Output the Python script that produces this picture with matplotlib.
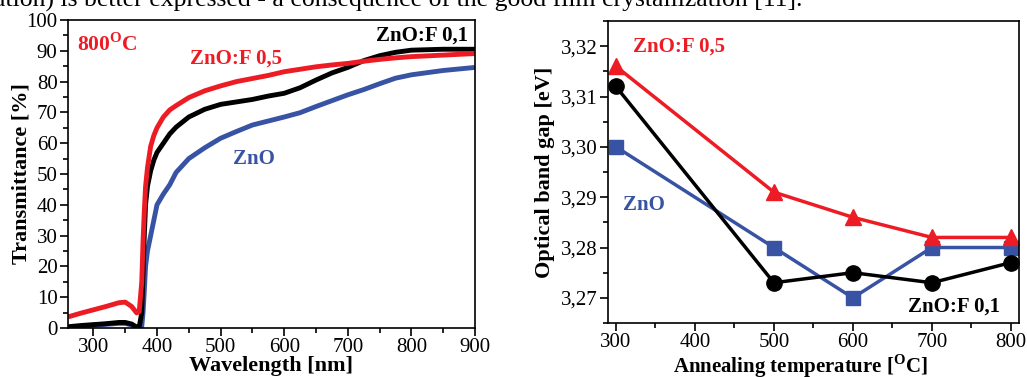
import matplotlib
matplotlib.use("Agg")
import matplotlib.pyplot as plt
from matplotlib.ticker import MultipleLocator, FuncFormatter

plt.rcParams["font.family"] = "Liberation Serif"
plt.rcParams["mathtext.fontset"] = "custom"
plt.rcParams["mathtext.rm"] = "Liberation Serif"
plt.rcParams["mathtext.bf"] = "Liberation Serif:bold"

RED = "#ED1C24"
BLUE = "#3953A4"
BLACK = "#000000"

# transmittance spectra (800 C annealed)
wavelength = [260, 280, 300, 320, 340, 350, 360, 368, 372, 376, 378, 380, 382, 385,
              390, 395, 400, 410, 420, 430, 450, 475, 500, 525, 550, 575, 600, 625,
              650, 675, 700, 725, 750, 775, 800, 850, 900]
t_znof05 = [3.6, 4.8, 5.9, 7.0, 8.2, 8.4, 7.0, 4.9, 5.3, 15, 28, 38, 46, 52,
            59, 62.5, 65, 68.5, 70.8, 72.2, 74.8, 77, 78.6, 80, 81, 82, 83.2, 84,
            84.8, 85.4, 85.9, 86.6, 87.2, 87.7, 88.1, 88.6, 89.1]
t_znof01 = [0.4, 0.8, 1.1, 1.4, 1.8, 1.8, 1.3, 0.3, 0.3, 5, 18, 30, 40, 46,
            51, 54.5, 57, 60, 63, 65.2, 68.5, 71, 72.6, 73.4, 74.2, 75.3, 76.2, 78,
            80.5, 82.8, 84.6, 86.8, 88.4, 89.5, 90.2, 90.5, 90.5]
t_zno = [0.1, 0.5, 0.9, 1.2, 1.5, 1.5, 1.0, 0.0, 0.0, 0.5, 5, 12, 20, 25,
         30, 35, 40, 43.5, 46.5, 50.5, 55, 58.5, 61.6, 63.8, 65.9, 67.2, 68.5, 69.9,
         71.9, 73.8, 75.7, 77.4, 79.3, 81.1, 82.2, 83.6, 84.6]

# optical band gap vs annealing temperature
temps = [300, 500, 600, 700, 800]
eg_znof05 = [3.316, 3.291, 3.286, 3.282, 3.282]
eg_znof01 = [3.312, 3.273, 3.275, 3.273, 3.277]
eg_zno = [3.300, 3.280, 3.270, 3.280, 3.280]

fig = plt.figure(figsize=(10.27, 3.77), dpi=100)

fig.text(-0.006, 0.983, "ation) is better expressed - a consequence of the good film crystallization [11].",
         fontsize=18.5, va="baseline", ha="left")


def style_axes(ax):
    ax.tick_params(which="major", direction="out", length=6, width=1.2, labelsize=15,
                   top=False, right=False, pad=1.5)
    ax.tick_params(which="minor", direction="out", length=3.5, width=1.2,
                   top=False, right=False)
    for s in ax.spines.values():
        s.set_linewidth(1.2)


# left panel
ax1 = fig.add_axes([0.0662, 0.130, 0.3963, 0.817])
ax1.plot(wavelength, t_zno, color=BLUE, lw=3.5, solid_capstyle="butt")
ax1.plot(wavelength, t_znof01, color=BLACK, lw=3.5, solid_capstyle="butt")
ax1.plot(wavelength, t_znof05, color=RED, lw=3.5, solid_capstyle="butt")
ax1.set_xlim(260, 900)
ax1.set_ylim(0, 100)
ax1.xaxis.set_major_locator(MultipleLocator(100))
ax1.xaxis.set_minor_locator(MultipleLocator(50))
ax1.yaxis.set_major_locator(MultipleLocator(10))
ax1.yaxis.set_minor_locator(MultipleLocator(5))
style_axes(ax1)
ax1.set_xlabel("Wavelength [nm]", fontsize=16, fontweight="bold")
ax1.xaxis.set_label_coords(0.5, -0.09)
ax1.set_ylabel("Transmittance [%]", fontsize=16, fontweight="bold")
ax1.yaxis.set_label_coords(-0.09, 0.5)

ax1.text(0.022, 0.92, r"800$^{\mathbf{O}}$C", transform=ax1.transAxes, color=RED,
         fontsize=15.5, fontweight="bold", ha="left", va="center")
ax1.text(0.30, 0.875, "ZnO:F 0,5", transform=ax1.transAxes, color=RED,
         fontsize=15, fontweight="bold", ha="left", va="center")
ax1.text(0.983, 0.95, "ZnO:F 0,1", transform=ax1.transAxes, color=BLACK,
         fontsize=15, fontweight="bold", ha="right", va="center")
ax1.text(0.405, 0.548, "ZnO", transform=ax1.transAxes, color=BLUE,
         fontsize=15, fontweight="bold", ha="left", va="center")

# right panel
ax2 = fig.add_axes([0.592, 0.1432, 0.400, 0.8011])
ax2.plot(temps, eg_zno, color=BLUE, lw=2.5, marker="s", ms=9.5)
ax2.plot(temps, eg_znof01, color=BLACK, lw=2.5, marker="o", ms=11)
ax2.plot(temps, eg_znof05, color=RED, lw=2.5, marker="^", ms=12)
ax2.set_xlim(290, 810)
ax2.set_ylim(3.265, 3.325)
ax2.xaxis.set_major_locator(MultipleLocator(100))
ax2.xaxis.set_minor_locator(MultipleLocator(50))
ax2.yaxis.set_major_locator(MultipleLocator(0.01))
ax2.yaxis.set_minor_locator(MultipleLocator(0.005))
ax2.yaxis.set_major_formatter(FuncFormatter(lambda v, _: f"{v:.2f}".replace(".", ",")))
style_axes(ax2)
ax2.set_xlabel(r"Annealing temperature [$^{\mathbf{O}}$C]", fontsize=15, fontweight="bold")
ax2.xaxis.set_label_coords(0.468, -0.097)
ax2.set_ylabel("Optical band gap [eV]", fontsize=16, fontweight="bold")
ax2.yaxis.set_label_coords(-0.13, 0.5)

ax2.text(0.06, 0.915, "ZnO:F 0,5", transform=ax2.transAxes, color=RED,
         fontsize=15, fontweight="bold", ha="left", va="center")
ax2.text(0.037, 0.39, "ZnO", transform=ax2.transAxes, color=BLUE,
         fontsize=15, fontweight="bold", ha="left", va="center")
ax2.text(0.955, 0.055, "ZnO:F 0,1", transform=ax2.transAxes, color=BLACK,
         fontsize=15, fontweight="bold", ha="right", va="center")

fig.savefig("out.png", dpi=100)
